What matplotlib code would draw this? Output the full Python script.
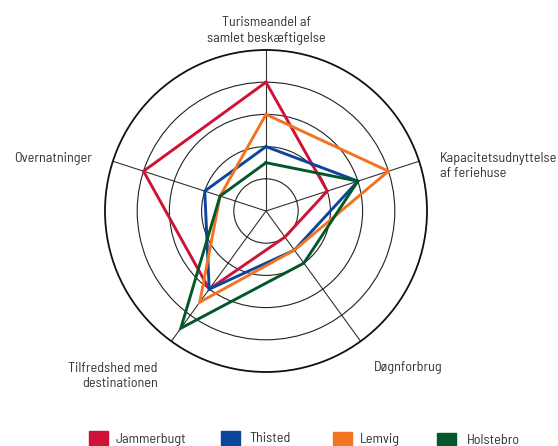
import numpy as np
import matplotlib
matplotlib.use("Agg")
import matplotlib.pyplot as plt
from matplotlib.patches import Rectangle
from matplotlib import font_manager

categories = ["Turismeandel af\nsamlet beskæftigelse",
              "Kapacitetsudnyttelse\naf feriehuse",
              "Døgnforbrug",
              "Tilfredshed med\ndestinationen",
              "Overnatninger"]
series_names = ["Jammerbugt", "Thisted", "Lemvig", "Holstebro"]
jammerbugt = [4, 2, 1, 3, 4]
thisted = [2, 3, 1.5, 3, 2]
lemvig = [3, 4, 1.5, 3.5, 1.5]
holstebro = [1.5, 3, 2, 4.5, 1.5]
colors = ["#CF1237", "#0B469C", "#F47321", "#03582A"]

names = set(f.name for f in font_manager.fontManager.ttflist)
main = "Barlow Semi Condensed" if "Barlow Semi Condensed" in names else "Roboto Condensed"
plt.rcParams['font.family'] = [main, "DejaVu Sans"]

W, H = 558, 446
fig = plt.figure(figsize=(W/100, H/100), dpi=100)
cx, cy, R = 266, 211, 161
ax = fig.add_axes([(cx-R)/W, (H-cy-R)/H, 2*R/W, 2*R/H], projection='polar')
ax.set_theta_offset(np.pi/2)
ax.set_theta_direction(-1)
ax.set_ylim(0, 5)
n = len(categories)
angles = np.arange(n) * 2*np.pi/n
ax.set_xticks(angles)
ax.set_xticklabels([])
ax.set_yticks([1, 2, 3, 4])
ax.set_yticklabels([])
ax.yaxis.grid(True, color="#222222", linewidth=0.8)
ax.xaxis.grid(True, color="#333333", linewidth=0.8)
ax.spines['polar'].set_color("#111111")
ax.spines['polar'].set_linewidth(1.3)
ax.tick_params(length=0)

for vals, c in zip([jammerbugt, thisted, lemvig, holstebro], colors):
    v = list(vals) + [vals[0]]
    a = list(angles) + [angles[0]]
    ax.plot(a, v, color=c, linewidth=2.1, solid_joinstyle='miter', zorder=3)

tc = "#333333"
fs = 10.2
LS = 15.3

def ft(x, y, s, ha):
    for i, line in enumerate(s.split("\n")):
        fig.text(x/W, 1-(y + i*LS)/H, line, ha=ha, va="baseline", fontsize=fs, color=tc)

ft(266, 26.5, categories[0], "center")
ft(440, 161.7, categories[1], "left")
ft(374, 371, categories[2], "left")
ft(157.5, 372, categories[3], "right")
ft(92, 161.7, categories[4], "right")

leg = [(89, 116, 431, 442.5), (221, 249, 431, 442.5), (333, 360, 432, 443.5), (437, 467, 433, 444.5)]
for (sx, tx, sy, by), name, c in zip(leg, series_names, colors):
    fig.patches.append(Rectangle((sx/W, 1-(sy+18)/H), 19/W, 18/H, transform=fig.transFigure, color=c))
    fig.text(tx/W, 1-by/H, name, ha="left", va="baseline", fontsize=fs, color=tc)

fig.savefig("out.png", dpi=100)
